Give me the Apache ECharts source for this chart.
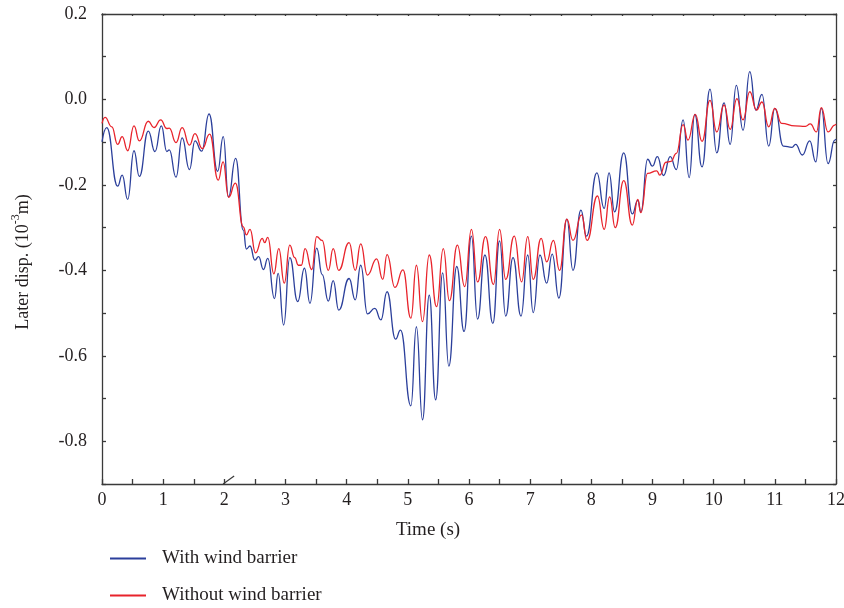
<!DOCTYPE html>
<html>
<head>
<meta charset="utf-8">
<script src="https://cdn.jsdelivr.net/npm/echarts@6/dist/echarts.min.js"></script>
<style>
html,body{margin:0;padding:0;background:#fff;}
#main{width:844px;height:608px;}
</style>
</head>
<body>
<div id="main"></div>
<script>
// Time axis ticks
const xTickLabels = [0,1,2,3,4,5,6,7,8,9,10,11,12];
const yTickLabels = [0.2,0.0,-0.2,-0.4,-0.6,-0.8];

// With wind barrier
const withT = [0,0.077,0.256,0.33,0.42,0.523,0.61,0.757,0.866,0.97,1.06,1.1,1.21,1.31,1.43,1.52,1.63,1.75,1.89,1.983,2.067,2.185,2.31,2.36,2.42,2.5,2.56,2.64,2.71,2.82,2.88,2.97,3.07,3.2,3.31,3.4,3.51,3.6,3.7,3.78,3.87,4.04,4.14,4.23,4.34,4.46,4.56,4.66,4.8,4.88,5.05,5.14,5.24,5.35,5.455,5.57,5.67,5.8,5.92,6.04,6.14,6.26,6.39,6.5,6.6,6.72,6.85,6.96,7.05,7.16,7.27,7.36,7.47,7.6,7.7,7.83,7.92,8.09,8.21,8.29,8.38,8.53,8.67,8.76,8.81,8.92,9.0,9.08,9.18,9.29,9.39,9.5,9.6,9.69,9.81,9.94,10.05,10.17,10.27,10.37,10.48,10.59,10.69,10.79,10.9,11.0,11.14,11.28,11.34,11.45,11.57,11.67,11.76,11.87,11.98,12];
const withV = [-0.099,-0.066,-0.203,-0.177,-0.234,-0.12,-0.18,-0.074,-0.122,-0.062,-0.122,-0.118,-0.182,-0.09,-0.164,-0.097,-0.121,-0.034,-0.168,-0.087,-0.228,-0.138,-0.306,-0.35,-0.343,-0.376,-0.368,-0.398,-0.372,-0.466,-0.407,-0.528,-0.37,-0.473,-0.395,-0.477,-0.348,-0.41,-0.472,-0.424,-0.493,-0.419,-0.469,-0.388,-0.502,-0.489,-0.516,-0.45,-0.561,-0.54,-0.717,-0.532,-0.75,-0.458,-0.703,-0.406,-0.624,-0.391,-0.543,-0.32,-0.514,-0.364,-0.524,-0.331,-0.507,-0.37,-0.507,-0.364,-0.499,-0.364,-0.43,-0.362,-0.465,-0.28,-0.4,-0.259,-0.32,-0.172,-0.255,-0.172,-0.263,-0.125,-0.268,-0.236,-0.263,-0.14,-0.156,-0.134,-0.178,-0.134,-0.164,-0.048,-0.183,-0.035,-0.158,0.024,-0.125,-0.008,-0.105,0.033,-0.072,0.065,-0.025,0.012,-0.109,-0.021,-0.109,-0.112,-0.105,-0.13,-0.097,-0.146,-0.021,-0.15,-0.095,-0.093];

// Without wind barrier
const withoutT = [0,0.05,0.16,0.256,0.33,0.42,0.523,0.61,0.757,0.85,0.96,1.06,1.1,1.21,1.31,1.43,1.52,1.64,1.76,1.9,1.98,2.07,2.18,2.31,2.36,2.42,2.51,2.62,2.66,2.71,2.81,2.89,2.98,3.07,3.15,3.21,3.26,3.32,3.43,3.51,3.6,3.7,3.78,3.87,4.04,4.14,4.23,4.34,4.49,4.59,4.66,4.79,4.92,5.05,5.14,5.24,5.35,5.47,5.58,5.68,5.81,5.93,6.04,6.14,6.27,6.4,6.5,6.6,6.74,6.86,6.96,7.05,7.18,7.27,7.38,7.48,7.6,7.7,7.84,7.93,8.1,8.21,8.3,8.39,8.53,8.67,8.76,8.81,8.92,9.07,9.12,9.22,9.3,9.39,9.5,9.58,9.7,9.81,9.94,10.05,10.17,10.27,10.38,10.48,10.59,10.7,10.79,10.9,11.0,11.11,11.33,11.5,11.58,11.68,11.76,11.87,11.98,12];
const withoutV = [-0.056,-0.042,-0.064,-0.105,-0.087,-0.12,-0.062,-0.097,-0.051,-0.066,-0.048,-0.068,-0.067,-0.101,-0.066,-0.107,-0.08,-0.115,-0.081,-0.189,-0.146,-0.229,-0.196,-0.298,-0.317,-0.304,-0.359,-0.325,-0.335,-0.323,-0.408,-0.349,-0.43,-0.341,-0.37,-0.388,-0.388,-0.349,-0.398,-0.321,-0.33,-0.4,-0.349,-0.4,-0.335,-0.4,-0.338,-0.411,-0.373,-0.421,-0.363,-0.44,-0.399,-0.512,-0.388,-0.52,-0.364,-0.485,-0.349,-0.471,-0.341,-0.438,-0.304,-0.427,-0.321,-0.433,-0.304,-0.421,-0.32,-0.427,-0.321,-0.421,-0.325,-0.38,-0.33,-0.4,-0.28,-0.33,-0.27,-0.33,-0.226,-0.304,-0.228,-0.3,-0.19,-0.294,-0.234,-0.265,-0.173,-0.167,-0.177,-0.147,-0.145,-0.126,-0.059,-0.095,-0.035,-0.098,-0.002,-0.076,-0.013,-0.07,0.002,-0.048,0.018,-0.025,-0.006,-0.064,-0.021,-0.056,-0.062,-0.063,-0.057,-0.076,-0.019,-0.076,-0.06,-0.058];

const seriesNames = ['With wind barrier','Without wind barrier'];

const pair = (t, v) => t.map((x, i) => [x, v[i]]);
const FONT = '"Liberation Serif", "DejaVu Serif", serif';
const INK = '#231f20';

const chart = echarts.init(document.getElementById('main'), null, {renderer: 'canvas'});

const axisLineStyle = {color: '#3a3a3a', width: 1.3};

chart.setOption({
  animation: false,
  backgroundColor: '#fff',
  grid: {left: 102, right: 8, top: 14, bottom: 124, containLabel: false, outerBoundsMode: 'none'},
  legend: {
    orient: 'vertical',
    left: 110,
    top: 549,
    padding: 0,
    itemWidth: 36,
    itemHeight: 2,
    itemGap: 18,
    icon: 'rect',
    textStyle: {fontFamily: FONT, fontSize: 19, color: INK, padding: [0, 0, 0, 11]},
    data: seriesNames
  },
  xAxis: [{
    type: 'value',
    min: 0, max: 12, interval: 0.5,
    axisLine: {show: true, onZero: false, lineStyle: axisLineStyle},
    axisTick: {show: true, inside: true, length: 5, lineStyle: axisLineStyle},
    splitLine: {show: false},
    axisLabel: {
      fontFamily: FONT, fontSize: 18, color: INK, margin: 7,
      formatter: v => (Math.abs(v - Math.round(v)) < 1e-6 && xTickLabels.includes(Math.round(v))) ? String(Math.round(v)) : ''
    }
  }, {
    type: 'value', position: 'top',
    min: 0, max: 12, interval: 0.5,
    axisLine: {show: true, onZero: false, lineStyle: axisLineStyle},
    axisTick: {show: true, inside: true, length: 2, lineStyle: axisLineStyle},
    axisLabel: {show: false},
    splitLine: {show: false}
  }],
  yAxis: [{
    type: 'value',
    min: -0.9, max: 0.2, interval: 0.1,
    axisLine: {show: true, onZero: false, lineStyle: axisLineStyle},
    axisTick: {show: true, inside: true, length: 4, lineStyle: axisLineStyle},
    splitLine: {show: false},
    axisLabel: {
      fontFamily: FONT, fontSize: 18, color: INK, margin: 15,
      formatter: v => {
        const r = Math.round(v * 10) / 10;
        const hit = yTickLabels.find(y => Math.abs(y - r) < 1e-6);
        return hit === undefined ? '' : hit.toFixed(1);
      }
    },
    name: '{b|Later disp. (10}{s|-3}{b|m)}',
    nameLocation: 'middle',
    nameGap: 70,
    nameRotate: 90,
    nameTextStyle: {
      padding: [0, 26, 0, 0],
      rich: {
        b: {fontFamily: FONT, fontSize: 18, color: INK, lineHeight: 22, verticalAlign: 'bottom'},
        s: {fontFamily: FONT, fontSize: 12, color: INK, lineHeight: 22, verticalAlign: 'top', padding: [0, 0, 9, 0]}
      }
    }
  }, {
    type: 'value', position: 'right',
    min: -0.9, max: 0.2, interval: 0.1,
    axisLine: {show: true, onZero: false, lineStyle: axisLineStyle},
    axisTick: {show: true, inside: true, length: 3, lineStyle: axisLineStyle},
    axisLabel: {show: false},
    splitLine: {show: false}
  }],
  series: [{
    name: seriesNames[0],
    type: 'line',
    data: pair(withT, withV),
    showSymbol: false,
    smooth: 0.5,
    smoothMonotone: 'x',
    lineStyle: {color: '#2b3f9b', width: 1.3},
    itemStyle: {color: '#2b3f9b'},
    z: 2
  }, {
    name: seriesNames[1],
    type: 'line',
    data: pair(withoutT, withoutV),
    showSymbol: false,
    smooth: 0.5,
    smoothMonotone: 'x',
    lineStyle: {color: '#e8232b', width: 1.3},
    itemStyle: {color: '#e8232b'},
    z: 3
  }]
});

// axis title and axis-break mark
const p0 = chart.convertToPixel({xAxisIndex: 0, yAxisIndex: 0}, [1.98, -0.9]);
const p1 = chart.convertToPixel({xAxisIndex: 0, yAxisIndex: 0}, [2.16, -0.9]);
chart.setOption({
  graphic: [{
    type: 'text',
    x: 428, y: 530,
    style: {text: 'Time (s)', font: '19px ' + FONT, fill: INK, align: 'center', verticalAlign: 'middle'}
  }, {
    type: 'line',
    shape: {x1: p0[0], y1: p0[1], x2: p1[0], y2: p1[1] - 8},
    style: {stroke: '#3a3a3a', lineWidth: 1.2}
  }]
});
</script>
</body>
</html>
